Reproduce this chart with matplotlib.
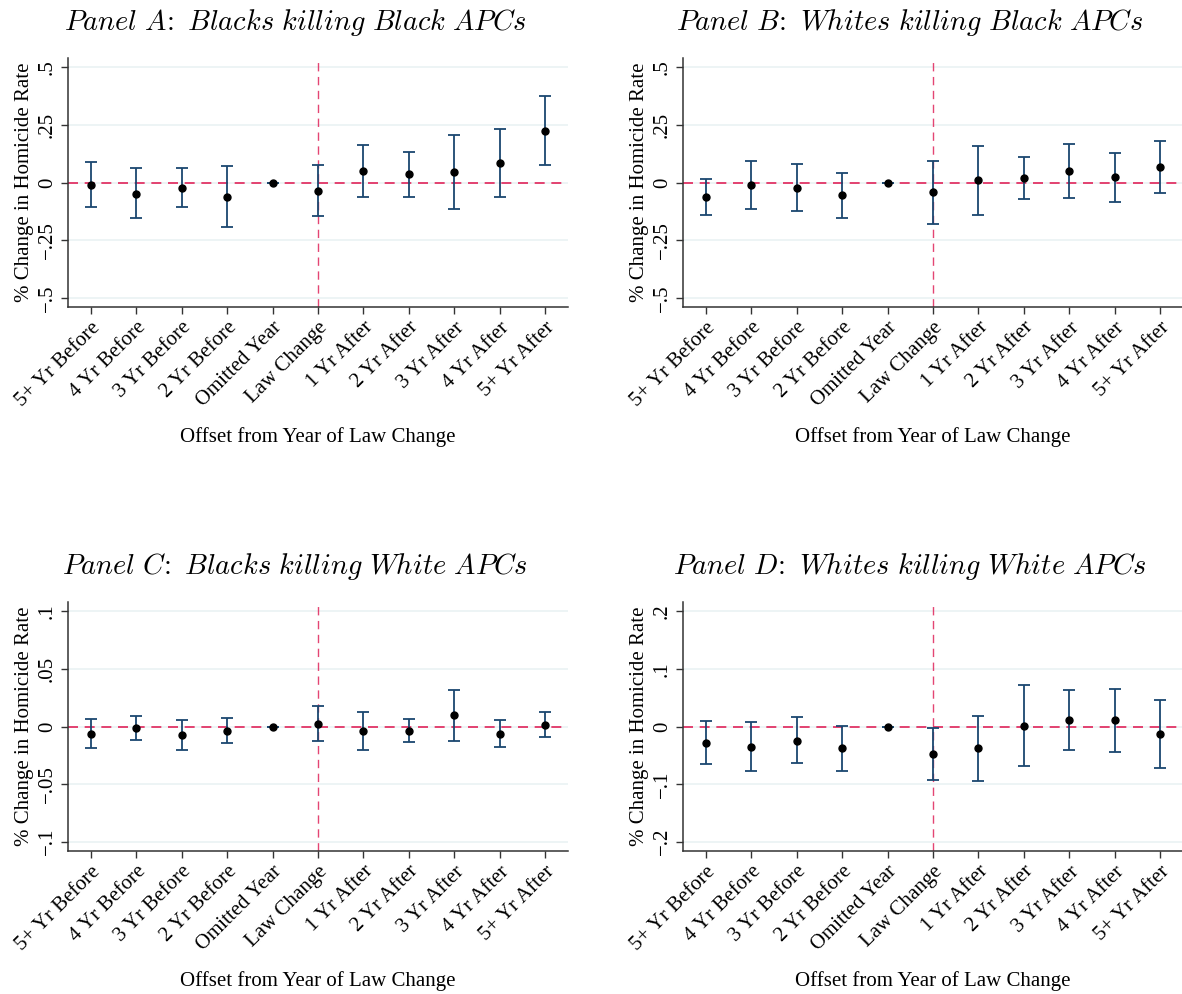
import matplotlib.pyplot as plt
import numpy as np

plt.rcParams['font.family'] = ['Liberation Serif', 'DejaVu Serif']
plt.rcParams['mathtext.fontset'] = 'cm'

labels = ['5+ Yr Before', '4 Yr Before', '3 Yr Before', '2 Yr Before', 'Omitted Year',
          'Law Change', '1 Yr After', '2 Yr After', '3 Yr After', '4 Yr After', '5+ Yr After']

# Panel A: Blacks killing Black APCs
a_est = [-0.009, -0.048, -0.023, -0.062, 0.0, -0.036, 0.049, 0.036, 0.045, 0.084, 0.225]
a_hi = [0.091, 0.061, 0.064, 0.071, 0.0, 0.077, 0.162, 0.134, 0.207, 0.233, 0.377]
a_lo = [-0.107, -0.155, -0.107, -0.192, 0.0, -0.147, -0.065, -0.061, -0.116, -0.065, 0.075]

# Panel B: Whites killing Black APCs
b_est = [-0.062, -0.012, -0.022, -0.056, 0.0, -0.042, 0.012, 0.019, 0.049, 0.023, 0.068]
b_hi = [0.017, 0.095, 0.079, 0.042, 0.0, 0.095, 0.160, 0.111, 0.166, 0.129, 0.182]
b_lo = [-0.139, -0.116, -0.124, -0.156, 0.0, -0.178, -0.139, -0.072, -0.068, -0.084, -0.045]

# Panel C: Blacks killing White APCs
c_est = [-0.0061, -0.0012, -0.0072, -0.0035, 0.0, 0.0023, -0.0043, -0.0038, 0.0099, -0.0061, 0.0017]
c_hi = [0.0067, 0.0087, 0.0055, 0.0075, 0.0, 0.018, 0.0122, 0.0064, 0.0319, 0.0055, 0.0128]
c_lo = [-0.0183, -0.0113, -0.020, -0.0145, 0.0, -0.013, -0.0203, -0.0136, -0.0122, -0.0174, -0.0087]

# Panel D: Whites killing White APCs
d_est = [-0.0278, -0.0354, -0.0243, -0.0377, 0.0, -0.0475, -0.038, 0.0017, 0.011, 0.011, -0.0133]
d_hi = [0.0087, 0.0075, 0.0168, 0.0017, 0.0, -0.003, 0.0174, 0.072, 0.0626, 0.0655, 0.0458]
d_lo = [-0.065, -0.078, -0.064, -0.078, 0.0, -0.092, -0.0945, -0.068, -0.0406, -0.0435, -0.0719]

panels = [
    ('A', 'Blacks killing Black APCs', a_est, a_lo, a_hi, [-0.5, -0.25, 0, 0.25, 0.5],
     ['\u2212.5', '\u2212.25', '0', '.25', '.5'], 0.54),
    ('B', 'Whites killing Black APCs', b_est, b_lo, b_hi, [-0.5, -0.25, 0, 0.25, 0.5],
     ['\u2212.5', '\u2212.25', '0', '.25', '.5'], 0.54),
    ('C', 'Blacks killing White APCs', c_est, c_lo, c_hi, [-0.1, -0.05, 0, 0.05, 0.1],
     ['\u2212.1', '\u2212.05', '0', '.05', '.1'], 0.108),
    ('D', 'Whites killing White APCs', d_est, d_lo, d_hi, [-0.2, -0.1, 0, 0.1, 0.2],
     ['\u2212.2', '\u2212.1', '0', '.1', '.2'], 0.216),
]

W, H = 1182, 994
fig = plt.figure(figsize=(W / 100, H / 100), dpi=100)
boxes = [(68, 58), (683, 58), (68, 602), (683, 602)]
title_pos = [(295, 22), (910, 22), (295, 567), (910, 567)]
aw, ah = 500, 249

navy = '#1a476f'
red = '#e0245a'

for (letter, name, est, lo, hi, yt, ytl, lim), (px, py), (tx, ty) in zip(panels, boxes, title_pos):
    ax = fig.add_axes([px / W, 1 - (py + ah) / H, aw / W, ah / H])
    x = np.arange(1, len(labels) + 1)
    est = np.array(est)
    err = [est - np.array(lo), np.array(hi) - est]
    ax.set_axisbelow(True)
    ax.grid(axis='y', color='#eaf2f3', linewidth=1.2)
    ax.axhline(0, color=red, linestyle=(0, (6, 4)), linewidth=1.2, zorder=1)
    ax.axvline(6, color=red, linestyle=(0, (6, 4)), linewidth=1.0, alpha=0.85, zorder=1)
    ax.errorbar(x, est, yerr=err, fmt='none', ecolor=navy, elinewidth=1.3,
                capsize=4, capthick=1.3, zorder=2)
    ax.plot(x, est, 'o', color='black', markersize=5, zorder=3)
    ax.set_xlim(0.5, 11.5)
    ax.set_ylim(-lim, lim)
    ax.set_yticks(yt)
    ax.set_yticklabels(ytl, rotation=90, va='center', fontsize=15)
    ax.set_xticks(x)
    ax.set_xticklabels(labels, rotation=45, ha='right', rotation_mode='anchor', fontsize=15)
    ax.tick_params(direction='out', length=5, color='#333333', width=1, pad=3)
    for s in ['top', 'right']:
        ax.spines[s].set_visible(False)
    for s in ['left', 'bottom']:
        ax.spines[s].set_color('#333333')
        ax.spines[s].set_linewidth(1.1)
    ax.set_ylabel('% Change in Homicide Rate', fontsize=15, labelpad=3)
    ax.set_xlabel('Offset from Year of Law Change', fontsize=15, labelpad=12)
    ttl = r'$\mathit{Panel\ ' + letter + r'}\!\mathrm{:}\ \mathit{' + name.replace(' ', r'\ ') + r'}$'
    fig.text(tx / W, 1 - ty / H, ttl, fontsize=20.5, ha='center', va='center')

fig.savefig('out.png', dpi=100)
